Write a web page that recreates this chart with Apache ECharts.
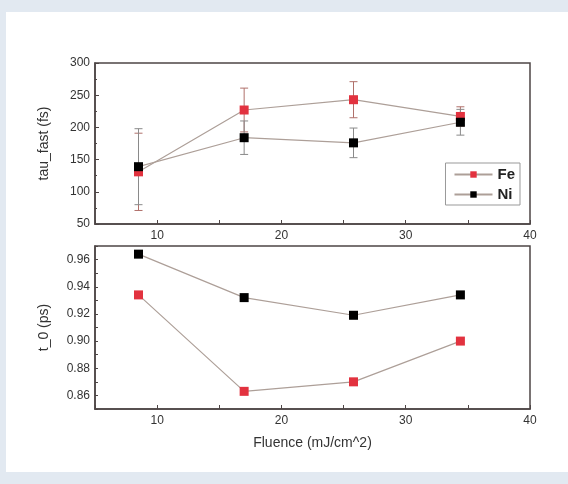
<!DOCTYPE html>
<html>
<head>
<meta charset="utf-8">
<script src="https://cdn.jsdelivr.net/npm/echarts@6/dist/echarts.min.js"></script>
<style>
  html, body { margin: 0; padding: 0; background: #e2e9f1; }
  #panel { position: absolute; left: 6px; top: 12px; width: 562px; height: 460px; background: #ffffff; }
  #chart { position: absolute; left: 0; top: 0; width: 568px; height: 484px; }
</style>
</head>
<body>
<div id="panel"></div>
<div id="chart"></div>
<script>
  // fluence (mJ/cm^2)
  var fluence = [8.5, 17.0, 25.8, 34.4];

  // tau_fast (fs) with error bars
  var feTau = [131, 227, 243, 217];
  var feTauErr = [60, 34, 28, 15];
  var niTau = [139, 184, 176, 208];
  var niTauErr = [59, 26, 23, 20];

  // t_0 (ps)
  var feT0 = [0.934, 0.863, 0.870, 0.900];
  var niT0 = [0.964, 0.932, 0.919, 0.934];

  var xTicks = [10, 20, 30, 40];

  function pairs(xs, ys) {
    return xs.map(function (x, i) { return [x, ys[i]]; });
  }
  function errData(xs, ys, es) {
    return xs.map(function (x, i) { return [x, ys[i] - es[i], ys[i] + es[i]]; });
  }
  function errBar(color) {
    return function (params, api) {
      var lo = api.coord([api.value(0), api.value(1)]);
      var hi = api.coord([api.value(0), api.value(2)]);
      var w = 4;
      var st = { stroke: color, lineWidth: 1 };
      return {
        type: 'group',
        children: [
          { type: 'line', shape: { x1: lo[0], y1: lo[1], x2: hi[0], y2: hi[1] }, style: st },
          { type: 'line', shape: { x1: lo[0] - w, y1: lo[1], x2: lo[0] + w, y2: lo[1] }, style: st },
          { type: 'line', shape: { x1: hi[0] - w, y1: hi[1], x2: hi[0] + w, y2: hi[1] }, style: st }
        ]
      };
    };
  }

  var frame = '#4d4545';
  var lineCol = '#ad9f98';
  var red = '#e2323f';
  var txt = '#333333';
  var font = 'Liberation Sans';

  function xAxis(grid) {
    return {
      type: 'value', gridIndex: grid, min: 5, max: 40, interval: 5,
      axisLine: { show: true, lineStyle: { color: frame, width: 1.5 } },
      axisTick: { inside: true, length: 4, lineStyle: { color: frame } },
      splitLine: { show: false },
      axisLabel: {
        color: txt, fontFamily: font, fontSize: 12, margin: 6,
        formatter: function (v) { return xTicks.indexOf(v) >= 0 ? String(v) : ''; }
      }
    };
  }

  var chart = echarts.init(document.getElementById('chart'), null, { renderer: 'canvas' });
  chart.setOption({
    backgroundColor: 'transparent',
    animation: false,
    grid: [
      { left: 95, right: 38, top: 63, height: 161, show: true, borderColor: frame, borderWidth: 1.5, backgroundColor: 'transparent' },
      { left: 95, right: 38, top: 246, height: 163, show: true, borderColor: frame, borderWidth: 1.5, backgroundColor: 'transparent' }
    ],
    legend: {
      data: ['Fe', 'Ni'],
      orient: 'vertical',
      right: 48, top: 163,
      backgroundColor: '#ffffff',
      borderColor: '#999999', borderWidth: 1,
      padding: [4, 5, 3, 8],
      itemGap: 5,
      itemWidth: 38, itemHeight: 8,
      textStyle: { color: '#222', fontFamily: font, fontSize: 15, fontWeight: 'bold' }
    },
    xAxis: [
      xAxis(0),
      Object.assign(xAxis(1), {
        name: 'Fluence (mJ/cm^2)', nameLocation: 'middle', nameGap: 27,
        nameTextStyle: { color: txt, fontFamily: font, fontSize: 14 }
      })
    ],
    yAxis: [
      {
        type: 'value', gridIndex: 0, min: 50, max: 300, interval: 50,
        name: 'tau_fast (fs)', nameLocation: 'middle', nameGap: 44, nameRotate: 90,
        nameTextStyle: { color: txt, fontFamily: font, fontSize: 14 },
        axisLine: { show: true, lineStyle: { color: frame, width: 1.5 } },
        axisTick: { inside: true, length: 4, lineStyle: { color: frame } },
        minorTick: { show: true, splitNumber: 2, length: 2, lineStyle: { color: frame } },
        splitLine: { show: false },
        axisLabel: { color: txt, fontFamily: font, fontSize: 12, margin: 5 }
      },
      {
        type: 'value', gridIndex: 1, min: 0.85, max: 0.97, interval: 0.01,
        name: 't_0 (ps)', nameLocation: 'middle', nameGap: 44, nameRotate: 90,
        nameTextStyle: { color: txt, fontFamily: font, fontSize: 14 },
        axisLine: { show: true, lineStyle: { color: frame, width: 1.5 } },
        axisTick: { inside: true, length: 3, lineStyle: { color: frame } },
        splitLine: { show: false },
        axisLabel: {
          color: txt, fontFamily: font, fontSize: 12, margin: 5,
          formatter: function (v) {
            var k = Math.round(v * 100);
            return (k % 2 === 0 && k >= 86 && k <= 96) ? v.toFixed(2) : '';
          }
        }
      }
    ],
    series: [
      {
        type: 'custom', xAxisIndex: 0, yAxisIndex: 0, z: 1,
        renderItem: errBar('#b0706a'), data: errData(fluence, feTau, feTauErr)
      },
      {
        type: 'custom', xAxisIndex: 0, yAxisIndex: 0, z: 1,
        renderItem: errBar('#8a8a8a'), data: errData(fluence, niTau, niTauErr)
      },
      {
        name: 'Fe', type: 'line', xAxisIndex: 0, yAxisIndex: 0, z: 2,
        data: pairs(fluence, feTau), symbol: 'rect', symbolSize: 9,
        lineStyle: { color: lineCol, width: 1.2 }, itemStyle: { color: red }
      },
      {
        name: 'Ni', type: 'line', xAxisIndex: 0, yAxisIndex: 0, z: 3,
        data: pairs(fluence, niTau), symbol: 'rect', symbolSize: 9,
        lineStyle: { color: lineCol, width: 1.2 }, itemStyle: { color: '#000000' }
      },
      {
        name: 'Fe', type: 'line', xAxisIndex: 1, yAxisIndex: 1, z: 2,
        data: pairs(fluence, feT0), symbol: 'rect', symbolSize: 9,
        lineStyle: { color: lineCol, width: 1.2 }, itemStyle: { color: red }
      },
      {
        name: 'Ni', type: 'line', xAxisIndex: 1, yAxisIndex: 1, z: 3,
        data: pairs(fluence, niT0), symbol: 'rect', symbolSize: 9,
        lineStyle: { color: lineCol, width: 1.2 }, itemStyle: { color: '#000000' }
      }
    ]
  });
</script>
</body>
</html>
